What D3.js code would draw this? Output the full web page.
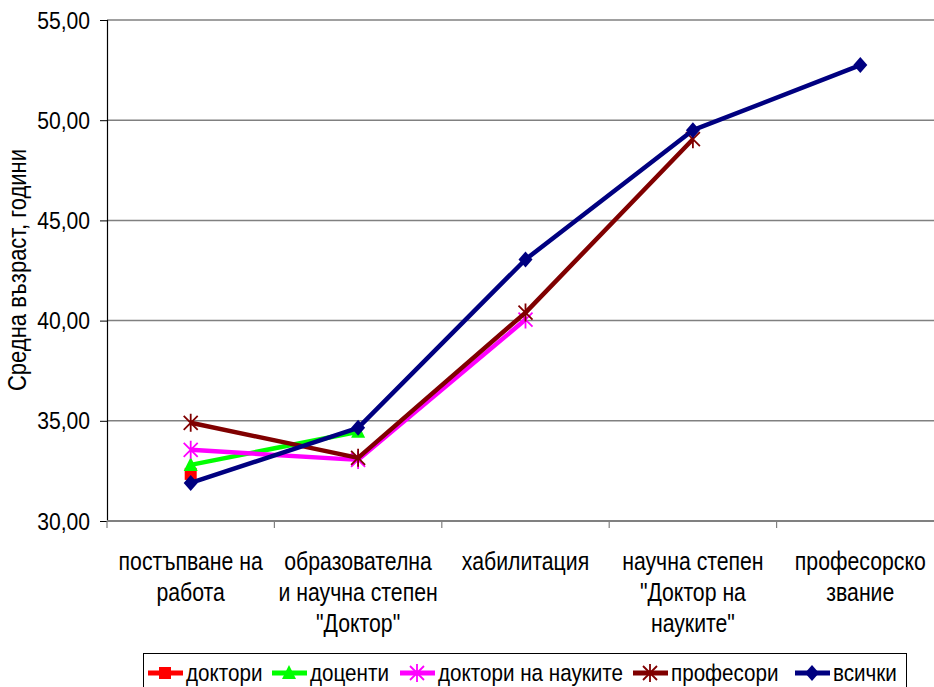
<!DOCTYPE html>
<html><head><meta charset="utf-8">
<script src="https://cdn.jsdelivr.net/npm/d3@7"></script>
<style>body{margin:0;background:#fff}svg{display:block}</style>
</head><body>
<script>
const categories = [["постъпване на","работа"],["образователна","и научна степен","\"Доктор\""],["хабилитация"],["научна степен","\"Доктор на","науките\""],["професорско","звание"]];
const yTicks = [30,35,40,45,50,55];
const doktori = [32.35,null,null,null,null];
const docenti = [32.8,34.45,null,null,null];
const doktoriNauki = [33.55,33.05,40.05,null,null];
const profesori = [34.9,33.15,40.4,49.05,null];
const vsichki = [31.9,34.65,43.05,49.5,52.75];
const seriesNames = ["доктори","доценти","доктори на науките","професори","всички"];
const seriesColors = ["#ff0000","#00ff00","#ff00ff","#800000","#000080"];
const seriesMarkers = ["square","triangle","star","star","diamond"];
const seriesData = [doktori,docenti,doktoriNauki,profesori,vsichki];

const W=934,H=687;
const L=107,R=944,T=20,B=521;
const font="'Liberation Sans',Arial,sans-serif";
const svg=d3.select("body").append("svg").attr("width",W).attr("height",H);
const x=d3.scaleBand().domain(d3.range(5)).range([L,R]);
const y=d3.scaleLinear().domain([30,55]).range([B,T]);

function stext(parent,tx,ty,str,size,sx,anchor,rot){
  return parent.append("text")
    .attr("transform",`translate(${tx},${ty})${rot?` rotate(${rot})`:""} scale(${sx},1)`)
    .attr("font-family",font).attr("font-size",size).attr("text-anchor",anchor||"start")
    .attr("fill","#000").text(str);
}

// gridlines
svg.append("g").selectAll("line").data(yTicks.filter(t=>t>30)).join("line")
  .attr("x1",L).attr("x2",R).attr("y1",d=>y(d)).attr("y2",d=>y(d))
  .attr("stroke","#808080").attr("stroke-width",1.5);

// y axis
const ya=svg.append("g").attr("transform",`translate(${L},0)`)
  .call(d3.axisLeft(y).tickValues(yTicks).tickSize(7).tickFormat(""));
ya.select(".domain").attr("stroke","#000").attr("stroke-width",1.2);
ya.selectAll(".tick line").attr("stroke","#000");
const fmt=d=>d3.format(".2f")(d).replace(".",",");
yTicks.forEach(t=>stext(svg,90,y(t)+8.5,fmt(t),24,0.88,"end"));

// x axis
const xa=svg.append("g").attr("transform",`translate(0,${B})`);
xa.append("line").attr("x1",L).attr("x2",R).attr("stroke","#808080").attr("stroke-width",2);
xa.selectAll("line.t").data(d3.range(6)).join("line").attr("class","t")
  .attr("x1",i=>L+i*x.bandwidth()).attr("x2",i=>L+i*x.bandwidth()).attr("y1",0).attr("y2",7)
  .attr("stroke","#808080").attr("stroke-width",1.2);
categories.forEach((lines,i)=>{
  lines.forEach((ln,j)=>stext(xa,x(i)+x.bandwidth()/2,49+j*31,ln,25,0.85,"middle"));
});

// y title
stext(svg,26,270,"Средна възраст, години",25,0.88,"middle",-90);

function marker(g,type,color,cx,cy){
  if(type==="square") g.append("rect").attr("x",cx-6).attr("y",cy-6).attr("width",12).attr("height",12).attr("fill",color);
  else if(type==="triangle") g.append("path").attr("d",`M${cx},${cy-8}L${cx+7},${cy+6}L${cx-7},${cy+6}Z`).attr("fill",color);
  else if(type==="diamond") g.append("path").attr("d",`M${cx},${cy-8}L${cx+7},${cy}L${cx},${cy+8}L${cx-7},${cy}Z`).attr("fill",color);
  else if(type==="star") g.append("path").attr("d",`M${cx-7},${cy-7}L${cx+7},${cy+7}M${cx-7},${cy+7}L${cx+7},${cy-7}M${cx},${cy-9}L${cx},${cy+9}`).attr("stroke",color).attr("stroke-width",1.8).attr("fill","none");
}

const line=d3.line().defined(d=>d!=null).x((d,i)=>x(i)+x.bandwidth()/2).y(d=>y(d));
seriesData.forEach((data,s)=>{
  const g=svg.append("g");
  g.append("path").datum(data).attr("d",line)
    .attr("fill","none").attr("stroke",seriesColors[s]).attr("stroke-width",4.5).attr("stroke-linejoin","round");
  data.forEach((v,i)=>{ if(v!=null) marker(g,seriesMarkers[s],seriesColors[s],x(i)+x.bandwidth()/2,y(v)); });
});

// legend
const lg=svg.append("g");
lg.append("rect").attr("x",143.5).attr("y",653.5).attr("width",763).attr("height",50).attr("fill","#fff").attr("stroke","#000").attr("stroke-width",1);
const legX=[148,272,400,633,795];
seriesNames.forEach((n,s)=>{
  const g=lg.append("g");
  const cx=legX[s]+17, cy=673;
  g.append("line").attr("x1",legX[s]).attr("x2",legX[s]+35).attr("y1",cy).attr("y2",cy).attr("stroke",seriesColors[s]).attr("stroke-width",5);
  marker(g,seriesMarkers[s],seriesColors[s],cx,cy);
  stext(g,legX[s]+38,681,n,24,0.86,"start");
});
</script>
</body></html>
